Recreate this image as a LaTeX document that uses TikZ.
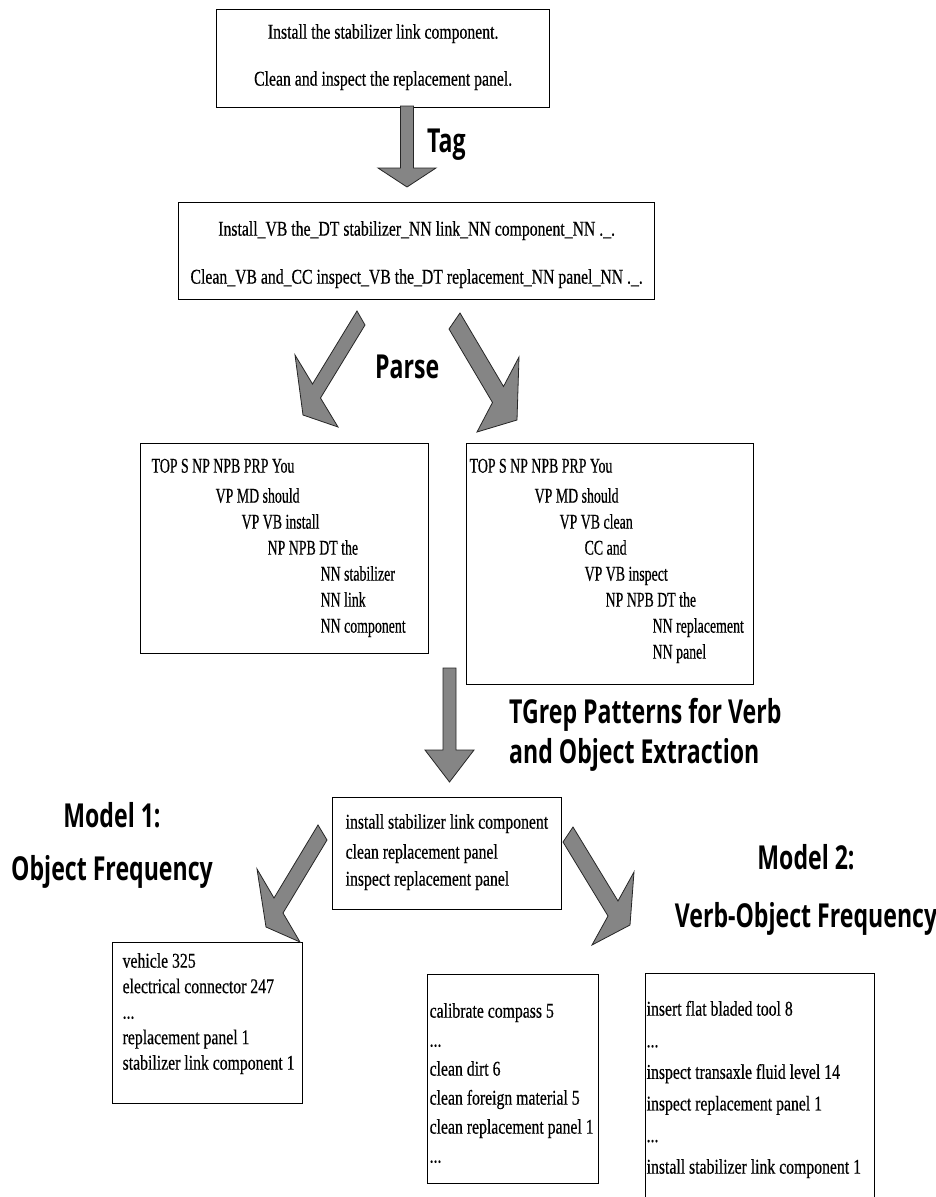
\documentclass[tikz,border=0pt]{standalone}
\usepackage{fontspec}
\setmainfont{Liberation Serif}
\newfontfamily\boxfont[FakeStretch=0.75, FakeBold=0.4]{Liberation Serif}
\newfontfamily\treefont[FakeStretch=0.66, FakeBold=0.4]{Liberation Serif}
\newfontfamily\labelfont[FakeStretch=0.7]{Open Sans}
\usetikzlibrary{calc}

\newcommand{\boxtext}[6]{%
  \makebox[#2][l]{\hspace*{#3}\parbox[c][#1][t]{#2}{\boxfont\fontsize{21pt}{#5}\selectfont
    \vspace*{\dimexpr#4-15pt\relax}\rule{0pt}{15pt}#6}}}
\newcommand{\fatarrow}[5]{%
  \draw[fatarrow] ($(#1)+#4$) -- ($(#2)+#4$) -- ($(#2)+#5$) -- (#3)
    -- ($(#2)-#5$) -- ($(#2)-#4$) -- ($(#1)-#4$) -- cycle;}

\begin{document}
\begin{tikzpicture}[x=1pt, y=-1pt,
    panel/.style={draw, line width=1.3pt, inner sep=0pt, anchor=north west},
    fatarrow/.style={fill=black!48, draw=black!85, line width=0.8pt, line join=miter},
    stage/.style={font=\labelfont\bfseries\fontsize{33pt}{40pt}\selectfont, inner sep=0pt}]

    \path[use as bounding box, fill=white] (0,0) rectangle (935,1197);

    \node[panel] (sentences) at (216,9) {\boxtext{98pt}{333pt}{0pt}{29pt}{47pt}{\centering
        Install the stabilizer link component.\\
        Clean and inspect the replacement panel.}};
    \node[panel] (tagged) at (178,202) {\boxtext{97pt}{476pt}{0pt}{33pt}{48pt}{\centering
        Install\_VB the\_DT stabilizer\_NN link\_NN component\_NN .\_.\\
        Clean\_VB and\_CC inspect\_VB the\_DT replacement\_NN panel\_NN .\_.}};

    \node[panel] (parseA) at (140,443) {\boxtext{210pt}{288pt}{11pt}{29pt}{26pt}{\treefont
        TOP S NP NPB PRP You\\[4pt]
        \hspace*{64pt}VP MD should\\
        \hspace*{90pt}VP VB install\\
        \hspace*{116pt}NP NPB DT the\\
        \hspace*{169pt}NN stabilizer\\
        \hspace*{169pt}NN link\\
        \hspace*{169pt}NN component}};
    \node[panel] (parseB) at (466,443) {\boxtext{241pt}{287pt}{3pt}{29pt}{26pt}{\treefont
        TOP S NP NPB PRP You\\[4pt]
        \hspace*{65pt}VP MD should\\
        \hspace*{90pt}VP VB clean\\
        \hspace*{115pt}CC and\\
        \hspace*{115pt}VP VB inspect\\
        \hspace*{136pt}NP NPB DT the\\
        \hspace*{183pt}NN replacement\\
        \hspace*{183pt}NN panel}};

    \node[panel] (pairs) at (332,797) {\boxtext{112pt}{229pt}{13pt}{31pt}{27pt}{%
        install stabilizer link component\\[3pt]
        clean replacement panel\\
        inspect replacement panel}};

    \node[panel] (objfreq) at (112,942) {\boxtext{161pt}{190pt}{10pt}{25pt}{25.5pt}{%
        vehicle 325\\
        electrical connector 247\\
        ...\\
        replacement panel 1\\
        stabilizer link component 1}};
    \node[panel] (vofreqA) at (427,974) {\boxtext{209pt}{171pt}{2pt}{43pt}{29pt}{%
        calibrate compass 5\\
        ...\\
        clean dirt 6\\
        clean foreign material 5\\
        clean replacement panel 1\\
        ...}};
    \node[panel] (vofreqB) at (645,973) {\boxtext{240pt}{229pt}{1pt}{42pt}{31.6pt}{%
        insert flat bladed tool 8\\
        ...\\
        inspect transaxle fluid level 14\\
        inspect replacement panel 1\\
        ...\\
        install stabilizer link component 1}};

    \coordinate (tag-tail) at (407,106);
    \coordinate (tag-base) at (407,168);
    \coordinate (tag-tip) at (407,187);
    \coordinate (parseA-tail) at (361,318);
    \coordinate (parseA-base) at (316.5,391);
    \coordinate (parseA-tip) at (303,415);
    \coordinate (parseB-tail) at (454.5,321);
    \coordinate (parseB-base) at (498,394.5);
    \coordinate (parseB-tip) at (517,420);
    \coordinate (tgrep-tail) at (449.5,668);
    \coordinate (tgrep-base) at (449.5,750);
    \coordinate (tgrep-tip) at (449.5,782);
    \coordinate (model1-tail) at (322.5,832.5);
    \coordinate (model1-base) at (278.5,905.5);
    \coordinate (model1-tip) at (266,927);
    \coordinate (model2-tail) at (568,834.5);
    \coordinate (model2-base) at (613,908.5);
    \coordinate (model2-tip) at (630,925);

    \fatarrow{tag-tail}{tag-base}{tag-tip}{(6.5,0)}{(29,0)}
    \fatarrow{parseA-tail}{parseA-base}{parseA-tip}{(4,7)}{(21.5,36)}
    \fatarrow{parseB-tail}{parseB-base}{parseB-tip}{(5.5,-8)}{(21,-37.5)}
    \fatarrow{tgrep-tail}{tgrep-base}{tgrep-tip}{(6.5,0)}{(24.5,0)}
    \fatarrow{model1-tail}{model1-base}{model1-tip}{(4.5,7.5)}{(21.5,36.5)}
    \fatarrow{model2-tail}{model2-base}{model2-tip}{(5,-7.5)}{(21,-36.5)}

    \node[stage, anchor=base west] (tag) at (427,152) {Tag};
    \node[stage, anchor=base west] (parse) at (375,378) {Parse};
    \node[stage, anchor=base west] (tgrep) at (509,723) {\parbox[t]{320pt}{TGrep Patterns for Verb\\and Object Extraction}};
    \node[stage, anchor=base] (model1) at (112,827) {\parbox[t]{230pt}{\centering\baselineskip=53pt Model 1:\\Object Frequency}};
    \node[stage, anchor=base] (model2) at (806,869) {\parbox[t]{300pt}{\centering\baselineskip=58pt Model 2:\\Verb-Object Frequency}};
\end{tikzpicture}
\end{document}
